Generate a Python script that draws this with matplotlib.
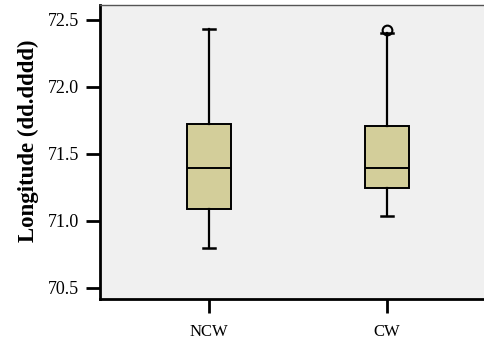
import matplotlib
matplotlib.use("Agg")
import matplotlib.pyplot as plt

# box statistics (Longitude, dd.dddd)
groups = ["NCW", "CW"]
q1 = [71.09, 71.245]
median = [71.395, 71.395]
q3 = [71.72, 71.71]
whisker_low = [70.80, 71.04]
whisker_high = [72.43, 72.40]
outliers = [[], [72.425]]

yticks = [70.5, 71.0, 71.5, 72.0, 72.5]

plt.rcParams["font.family"] = ["Liberation Serif", "DejaVu Serif"]

stats = []
for i, g in enumerate(groups):
    stats.append(dict(label=g, q1=q1[i], med=median[i], q3=q3[i],
                      whislo=whisker_low[i], whishi=whisker_high[i],
                      fliers=outliers[i]))

fig = plt.figure(figsize=(4.85, 3.42), dpi=100)
ax = fig.add_axes([0.2062, 0.1257, 0.7938, 0.8597])
ax.set_facecolor("#f0f0f0")

ax.bxp(stats, positions=[1, 2], widths=0.25, patch_artist=True,
       boxprops=dict(facecolor="#d3ce9a", edgecolor="black", linewidth=1.4),
       medianprops=dict(color="black", linewidth=1.4),
       whiskerprops=dict(color="black", linewidth=1.6),
       capprops=dict(color="black", linewidth=1.8),
       capwidths=0.065,
       flierprops=dict(marker="o", markersize=7, markerfacecolor="none",
                       markeredgecolor="black", markeredgewidth=1.5))

ax.set_xlim(0.388, 2.55)
ax.set_ylim(70.417, 72.612)
ax.set_yticks(yticks)
ax.set_yticklabels([f"{v:.1f}" for v in yticks])
ax.set_ylabel("Longitude (dd.dddd)", fontsize=16.5, fontweight="bold")
ax.yaxis.set_label_coords(-0.158, 0.537)

for s in ("left", "bottom"):
    ax.spines[s].set_linewidth(2)
    ax.spines[s].set_color("black")
ax.spines["right"].set_visible(False)
ax.spines["top"].set_color("#555555")
ax.spines["top"].set_linewidth(1)

ax.tick_params(axis="y", length=10, width=2, labelsize=13, pad=5)
ax.tick_params(axis="x", length=10, width=2, labelsize=12, pad=8)

fig.savefig("out.png", dpi=100)
